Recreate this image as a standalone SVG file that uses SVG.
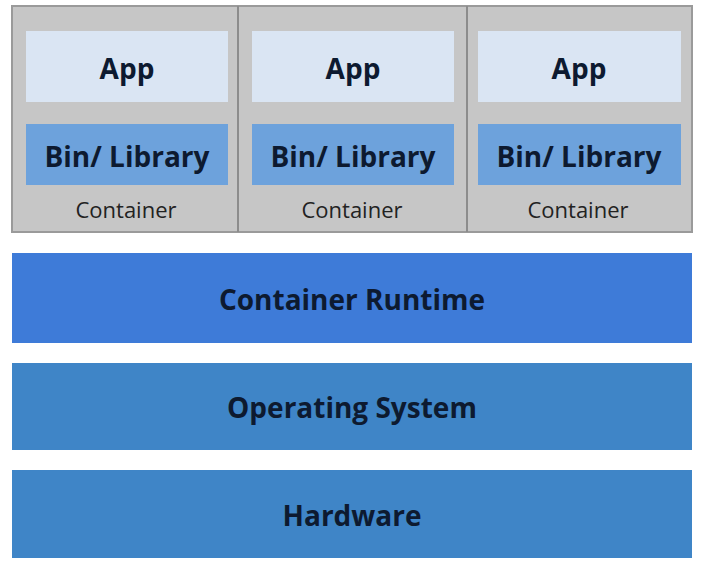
<svg xmlns="http://www.w3.org/2000/svg" width="704" height="568" viewBox="0 0 704 568">
<style>
.bg{fill:#ffffff}
.outer{fill:#c6c6c6;stroke:#9a9a9a;stroke-width:2}
.div{stroke:#8c8c8c;stroke-width:2}
.app{fill:#dae5f3}
.bin{fill:#6da2dc}
.rt{fill:#3e7bd8}
.os{fill:#3f85c7}
.t{font-family:"Open Sans",Lato,sans-serif;font-weight:bold;fill:#0d1a30;text-anchor:middle;dominant-baseline:central}
.b{font-size:28px}
.s{font-family:"Open Sans",Lato,sans-serif;font-size:22px;fill:#222;text-anchor:middle;dominant-baseline:central}
</style>
<rect class="bg" x="0" y="0" width="704" height="568"/>
<g id="containers">
<rect class="outer" x="12" y="6" width="680" height="226"/>
<line class="div" x1="238" y1="6" x2="238" y2="232"/>
<line class="div" x1="467" y1="6" x2="467" y2="232"/>
</g>
<g id="container1">
<rect class="app" x="26" y="31" width="202" height="71"/>
<text class="t b" x="127" y="68">App</text>
<rect class="bin" x="26" y="124" width="202" height="61"/>
<text class="t b" x="127" y="156">Bin/ Library</text>
<text class="s" x="126" y="209">Container</text>
</g>
<g id="container2">
<rect class="app" x="252" y="31" width="202" height="71"/>
<text class="t b" x="353" y="68">App</text>
<rect class="bin" x="252" y="124" width="202" height="61"/>
<text class="t b" x="353" y="156">Bin/ Library</text>
<text class="s" x="352" y="209">Container</text>
</g>
<g id="container3">
<rect class="app" x="478" y="31" width="203" height="71"/>
<text class="t b" x="579" y="68">App</text>
<rect class="bin" x="478" y="124" width="203" height="61"/>
<text class="t b" x="579" y="156">Bin/ Library</text>
<text class="s" x="578" y="209">Container</text>
</g>
<g id="runtime">
<rect class="rt" x="12" y="253" width="680" height="90"/>
<text class="t b" x="352" y="299">Container Runtime</text>
</g>
<g id="os">
<rect class="os" x="12" y="363" width="680" height="87"/>
<text class="t b" x="352" y="407">Operating System</text>
</g>
<g id="hardware">
<rect class="os" x="12" y="470" width="680" height="88"/>
<text class="t b" x="352" y="515">Hardware</text>
</g>
<g id="connectors"/>
</svg>
